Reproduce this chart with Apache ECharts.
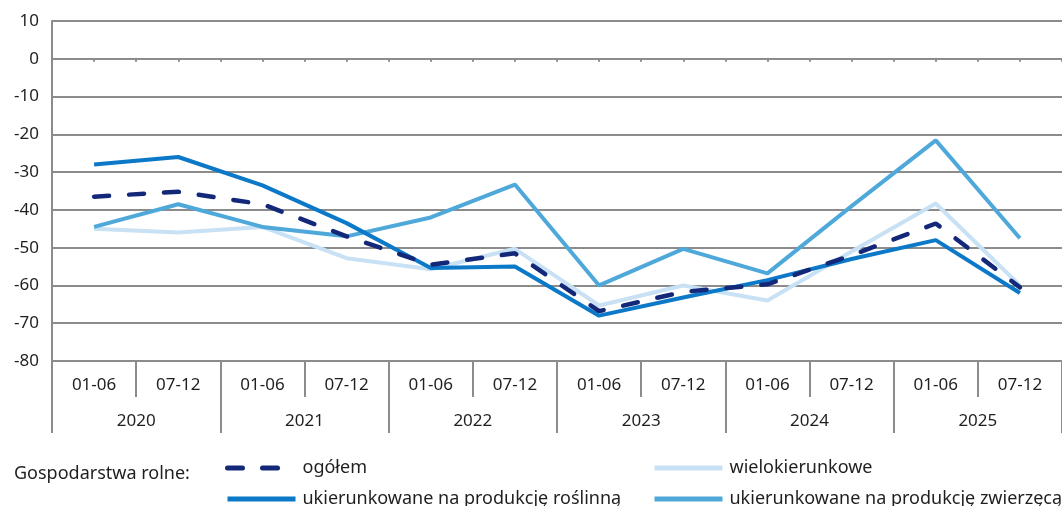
<!DOCTYPE html>
<html>
<head>
<meta charset="utf-8">
<title>Gospodarstwa rolne</title>
<script src="https://cdn.jsdelivr.net/npm/echarts@6/dist/echarts.min.js"></script>
<style>
    html, body { margin: 0; padding: 0; background: #fff; }
    #main { width: 1062px; height: 506px; }
</style>
</head>
<body>
<div id="main"></div>
<script>
    // półrocza i lata
    var halves = ['01-06', '07-12', '01-06', '07-12', '01-06', '07-12', '01-06', '07-12', '01-06', '07-12', '01-06', '07-12'];
    var years = ['2020', '2021', '2022', '2023', '2024', '2025'];

    // wartości
    var ogolem = [-36.5, -35.2, -38.5, -47, -54.5, -51.5, -66.8, -61.7, -59.7, -52, -43.6, -60.5];
    var wielokierunkowe = [-45, -46, -44.5, -52.8, -55.7, -50.3, -65.3, -60, -64, -51, -38.3, -60];
    var roslinna = [-28, -26, -33.5, -43.5, -55.4, -55, -68, -63.2, -58.6, -53, -48, -62];
    var zwierzeca = [-44.5, -38.5, -44.5, -47, -42, -33.3, -60, -50.3, -56.8, -39, -21.6, -47.5];

    var FONT = '"Noto Sans", sans-serif';
    var GRAY = '#8c8c8c';
    var TXT = '#1f1f1f';
    var AX_FS = 17;
    var LEG_FS = 18;

    var zeroTicks = [];
    for (var i = 0; i < halves.length * 2; i++) zeroTicks.push('');

    // jedna legenda na pozycję (układ 2x2 jak w oryginale)
    function leg(name, left, top, line) {
        return {
            left: left,
            top: top,
            padding: 0,
            itemWidth: 68,
            itemHeight: 14,
            itemGap: 0,
            selectedMode: false,
            itemStyle: { opacity: 0 },
            lineStyle: line,
            textStyle: { fontSize: LEG_FS, color: TXT, fontFamily: FONT, padding: [0, 0, 0, 2] },
            data: [name]
        };
    }

    var myChart = echarts.init(document.getElementById('main'));

    myChart.setOption({
        animation: false,
        textStyle: { fontFamily: FONT },
        grid: { left: 52, right: -2, top: 21, height: 340 },
        xAxis: [{
            type: 'category',
            data: halves,
            position: 'bottom',
            boundaryGap: true,
            axisLine: { onZero: false, lineStyle: { color: GRAY, width: 2 } },
            axisTick: { show: true, interval: 0, length: 36, lineStyle: { color: GRAY, width: 2 } },
            axisLabel: { interval: 0, margin: 16, fontSize: AX_FS, color: TXT, fontFamily: FONT }
        }, {
            type: 'category',
            data: years,
            position: 'bottom',
            boundaryGap: true,
            axisLine: { onZero: false, lineStyle: { color: GRAY, width: 2 } },
            axisTick: { show: true, interval: 0, length: 72, lineStyle: { color: GRAY, width: 2 } },
            axisLabel: { interval: 0, margin: 52, fontSize: AX_FS, color: TXT, fontFamily: FONT }
        }, {
            type: 'category',
            data: zeroTicks,
            position: 'bottom',
            boundaryGap: true,
            axisLine: { onZero: true, lineStyle: { color: GRAY, width: 2 } },
            axisTick: { show: true, interval: 0, length: 3, lineStyle: { color: GRAY, width: 2 } },
            axisLabel: { show: false }
        }],
        yAxis: {
            type: 'value',
            min: -80,
            max: 10,
            interval: 10,
            axisLine: { show: true, lineStyle: { color: GRAY, width: 2 } },
            axisTick: { show: false },
            splitLine: { lineStyle: { color: GRAY, width: 2 } },
            axisLabel: { margin: 13, fontSize: AX_FS, color: TXT, fontFamily: FONT }
        },
        legend: [
            leg('ogółem', 225, 459, { width: 5, type: [15, 20], cap: 'round' }),
            leg('wielokierunkowe', 652, 459, { width: 5 }),
            leg('ukierunkowane na produkcję roślinną', 225, 490, { width: 5 }),
            leg('ukierunkowane na produkcję zwierzęcą', 652, 490, { width: 5 })
        ],
        graphic: [{
            type: 'text',
            left: 14,
            top: 465,
            style: { text: 'Gospodarstwa rolne:', fontSize: LEG_FS, fill: TXT, fontFamily: FONT }
        }],
        series: [{
            name: 'wielokierunkowe',
            type: 'line',
            data: wielokierunkowe,
            symbol: 'none',
            lineStyle: { color: '#c8e1f4', width: 4 },
            itemStyle: { color: '#c8e1f4' }
        }, {
            name: 'ukierunkowane na produkcję zwierzęcą',
            type: 'line',
            data: zwierzeca,
            symbol: 'none',
            lineStyle: { color: '#4ea8da', width: 4 },
            itemStyle: { color: '#4ea8da' }
        }, {
            name: 'ukierunkowane na produkcję roślinną',
            type: 'line',
            data: roslinna,
            symbol: 'none',
            lineStyle: { color: '#0b78c8', width: 4 },
            itemStyle: { color: '#0b78c8' }
        }, {
            name: 'ogółem',
            type: 'line',
            data: ogolem,
            symbol: 'none',
            lineStyle: { color: '#14287a', width: 4.5, type: [15, 20], cap: 'round' },
            itemStyle: { color: '#14287a' }
        }]
    });
</script>
</body>
</html>
